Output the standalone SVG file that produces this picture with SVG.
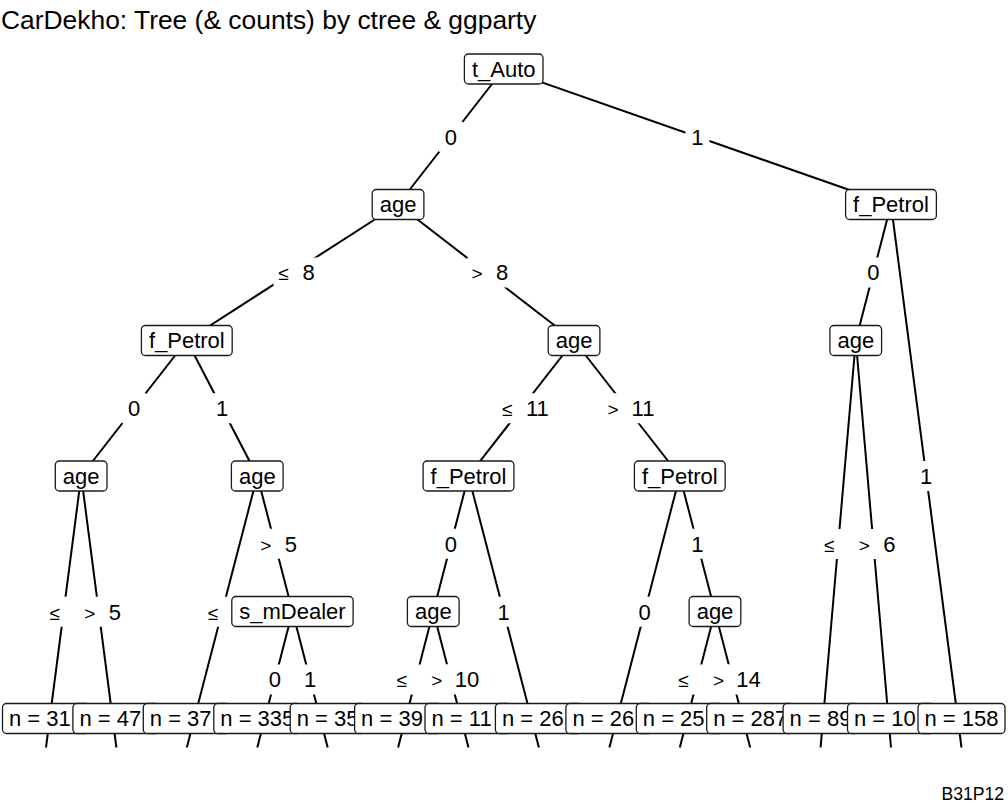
<svg xmlns="http://www.w3.org/2000/svg" width="1008" height="806" viewBox="0 0 1008 806">
<style>
text{font-family:"Liberation Sans",Arial,sans-serif;fill:#000}
.title{font-size:26.4px}
.cap{font-size:17.6px}
.edge{stroke:#000;stroke-width:2;fill:none}
.nb{fill:#fff;stroke:#1a1a1a;stroke-width:1.3}
.nt{font-size:22px;text-anchor:middle}
.tt{font-size:22px}
.lb{fill:#fff;stroke:none}
.el{font-size:22px;text-anchor:middle}
.op{font-size:19px}
</style>
<rect width="1008" height="806" fill="#fff"/>
<text class="title" x="1" y="29">CarDekho: Tree (&amp; counts) by ctree &amp; ggparty</text>

<g id="connectors">
<line class="edge" x1="503.7" y1="69" x2="398.1" y2="204.5"/>
<line class="edge" x1="503.7" y1="69" x2="891" y2="204.5"/>
<line class="edge" x1="398.1" y1="204.5" x2="186.8" y2="340.5"/>
<line class="edge" x1="398.1" y1="204.5" x2="574.1" y2="340.5"/>
<line class="edge" x1="186.8" y1="340.5" x2="81.2" y2="476"/>
<line class="edge" x1="186.8" y1="340.5" x2="257.3" y2="476"/>
<line class="edge" x1="81.2" y1="476" x2="46" y2="747.5"/>
<line class="edge" x1="81.2" y1="476" x2="116.4" y2="747.5"/>
<line class="edge" x1="257.3" y1="476" x2="186.8" y2="747.5"/>
<line class="edge" x1="257.3" y1="476" x2="292.5" y2="611.5"/>
<line class="edge" x1="292.5" y1="611.5" x2="257.3" y2="747.5"/>
<line class="edge" x1="292.5" y1="611.5" x2="327.7" y2="747.5"/>
<line class="edge" x1="574.1" y1="340.5" x2="468.5" y2="476"/>
<line class="edge" x1="574.1" y1="340.5" x2="679.8" y2="476"/>
<line class="edge" x1="468.5" y1="476" x2="433.3" y2="611.5"/>
<line class="edge" x1="468.5" y1="476" x2="538.9" y2="747.5"/>
<line class="edge" x1="433.3" y1="611.5" x2="398.1" y2="747.5"/>
<line class="edge" x1="433.3" y1="611.5" x2="468.5" y2="747.5"/>
<line class="edge" x1="679.8" y1="476" x2="609.4" y2="747.5"/>
<line class="edge" x1="679.8" y1="476" x2="715" y2="611.5"/>
<line class="edge" x1="715" y1="611.5" x2="679.8" y2="747.5"/>
<line class="edge" x1="715" y1="611.5" x2="750.2" y2="747.5"/>
<line class="edge" x1="891" y1="204.5" x2="855.8" y2="340.5"/>
<line class="edge" x1="891" y1="204.5" x2="961.5" y2="747.5"/>
<line class="edge" x1="855.8" y1="340.5" x2="820.6" y2="747.5"/>
<line class="edge" x1="855.8" y1="340.5" x2="891" y2="747.5"/>
</g>

<g id="edge-labels">
<rect class="lb" x="438.9" y="121.75" width="24" height="30"/><text class="el" x="450.9" y="144.5">0</text>
<rect class="lb" x="685.4" y="121.75" width="24" height="30"/><text class="el" x="697.4" y="144.5">1</text>
<rect class="lb" x="273.5" y="257.5" width="47" height="30"/><text class="el" y="280.2"><tspan class="op" x="283.5">≤</tspan><tspan x="308.5">8</tspan></text>
<rect class="lb" x="467.1" y="257.5" width="47" height="30"/><text class="el" y="280.2"><tspan class="op" x="477.1">&gt;</tspan><tspan x="502.1">8</tspan></text>
<rect class="lb" x="122" y="393.25" width="24" height="30"/><text class="el" x="134" y="416">0</text>
<rect class="lb" x="210" y="393.25" width="24" height="30"/><text class="el" x="222" y="416">1</text>
<rect class="lb" x="44.6" y="596.75" width="47" height="30"/><text class="el" y="619.5"><tspan class="op" x="54.6">≤</tspan></text>
<rect class="lb" x="79.8" y="596.75" width="47" height="30"/><text class="el" y="619.5"><tspan class="op" x="89.8">&gt;</tspan><tspan x="114.8">5</tspan></text>
<rect class="lb" x="203" y="596.75" width="47" height="30"/><text class="el" y="619.5"><tspan class="op" x="213">≤</tspan></text>
<rect class="lb" x="255.9" y="528.75" width="47" height="30"/><text class="el" y="551.5"><tspan class="op" x="265.9">&gt;</tspan><tspan x="290.9">5</tspan></text>
<rect class="lb" x="262.9" y="664.5" width="24" height="30"/><text class="el" x="274.9" y="687.2">0</text>
<rect class="lb" x="298.1" y="664.5" width="24" height="30"/><text class="el" x="310.1" y="687.2">1</text>
<rect class="lb" x="497.3" y="393.25" width="58" height="30"/><text class="el" y="416"><tspan class="op" x="507.3">≤</tspan><tspan x="537.3">11</tspan></text>
<rect class="lb" x="603" y="393.25" width="58" height="30"/><text class="el" y="416"><tspan class="op" x="613">&gt;</tspan><tspan x="643">11</tspan></text>
<rect class="lb" x="438.9" y="528.75" width="24" height="30"/><text class="el" x="450.9" y="551.5">0</text>
<rect class="lb" x="491.7" y="596.75" width="24" height="30"/><text class="el" x="503.7" y="619.5">1</text>
<rect class="lb" x="391.7" y="664.5" width="58" height="30"/><text class="el" y="687.2"><tspan class="op" x="401.7">≤</tspan></text>
<rect class="lb" x="426.9" y="664.5" width="58" height="30"/><text class="el" y="687.2"><tspan class="op" x="436.9">&gt;</tspan><tspan x="466.9">10</tspan></text>
<rect class="lb" x="632.6" y="596.75" width="24" height="30"/><text class="el" x="644.6" y="619.5">0</text>
<rect class="lb" x="685.4" y="528.75" width="24" height="30"/><text class="el" x="697.4" y="551.5">1</text>
<rect class="lb" x="673.4" y="664.5" width="58" height="30"/><text class="el" y="687.2"><tspan class="op" x="683.4">≤</tspan></text>
<rect class="lb" x="708.6" y="664.5" width="58" height="30"/><text class="el" y="687.2"><tspan class="op" x="718.6">&gt;</tspan><tspan x="748.6">14</tspan></text>
<rect class="lb" x="861.4" y="257.5" width="24" height="30"/><text class="el" x="873.4" y="280.2">0</text>
<rect class="lb" x="914.2" y="461" width="24" height="30"/><text class="el" x="926.2" y="483.7">1</text>
<rect class="lb" x="819.2" y="529" width="47" height="30"/><text class="el" y="551.7"><tspan class="op" x="829.2">≤</tspan></text>
<rect class="lb" x="854.4" y="529" width="47" height="30"/><text class="el" y="551.7"><tspan class="op" x="864.4">&gt;</tspan><tspan x="889.4">6</tspan></text>
</g>

<g id="n1"><rect class="nb" x="464.4" y="54" width="78.6" height="30" rx="4"/><text class="nt" x="503.7" y="76.7">t_Auto</text></g>
<g id="n2"><rect class="nb" x="372.2" y="189.5" width="51.7" height="30" rx="4"/><text class="nt" x="398.1" y="212.2">age</text></g>
<g id="n3"><rect class="nb" x="141.4" y="325.5" width="90.8" height="30" rx="4"/><text class="nt" x="186.8" y="348.2">f_Petrol</text></g>
<g id="n12"><rect class="nb" x="548.2" y="325.5" width="51.7" height="30" rx="4"/><text class="nt" x="574.1" y="348.2">age</text></g>
<g id="n23"><rect class="nb" x="845.6" y="189.5" width="90.8" height="30" rx="4"/><text class="nt" x="891" y="212.2">f_Petrol</text></g>
<g id="n24"><rect class="nb" x="829.9" y="325.5" width="51.7" height="30" rx="4"/><text class="nt" x="855.8" y="348.2">age</text></g>
<g id="n4"><rect class="nb" x="55.3" y="461" width="51.7" height="30" rx="4"/><text class="nt" x="81.2" y="483.7">age</text></g>
<g id="n7"><rect class="nb" x="231.4" y="461" width="51.7" height="30" rx="4"/><text class="nt" x="257.3" y="483.7">age</text></g>
<g id="n13"><rect class="nb" x="423.1" y="461" width="90.8" height="30" rx="4"/><text class="nt" x="468.5" y="483.7">f_Petrol</text></g>
<g id="n18"><rect class="nb" x="634.4" y="461" width="90.8" height="30" rx="4"/><text class="nt" x="679.8" y="483.7">f_Petrol</text></g>
<g id="n9"><rect class="nb" x="231.8" y="596.5" width="121.3" height="30" rx="4"/><text class="nt" x="292.5" y="619.2">s_mDealer</text></g>
<g id="n14"><rect class="nb" x="407.4" y="596.5" width="51.7" height="30" rx="4"/><text class="nt" x="433.3" y="619.2">age</text></g>
<g id="n20"><rect class="nb" x="689.1" y="596.5" width="51.7" height="30" rx="4"/><text class="nt" x="715" y="619.2">age</text></g>

<g id="t1"><rect class="nb" x="2.5" y="703.5" width="87" height="30" rx="4"/><text class="tt" x="9" y="726.2">n = 31</text></g>
<g id="t2"><rect class="nb" x="72.9" y="703.5" width="87" height="30" rx="4"/><text class="tt" x="79.4" y="726.2">n = 47</text></g>
<g id="t3"><rect class="nb" x="143.3" y="703.5" width="87" height="30" rx="4"/><text class="tt" x="149.8" y="726.2">n = 37</text></g>
<g id="t4"><rect class="nb" x="213.8" y="703.5" width="87" height="30" rx="4"/><text class="tt" x="220.3" y="726.2">n = 335</text></g>
<g id="t5"><rect class="nb" x="290.2" y="703.5" width="75" height="30" rx="4"/><text class="tt" x="296.7" y="726.2">n = 35</text></g>
<g id="t6"><rect class="nb" x="354.6" y="703.5" width="87" height="30" rx="4"/><text class="tt" x="361.1" y="726.2">n = 39</text></g>
<g id="t7"><rect class="nb" x="425" y="703.5" width="87" height="30" rx="4"/><text class="tt" x="431.5" y="726.2">n = 11</text></g>
<g id="t8"><rect class="nb" x="495.4" y="703.5" width="87" height="30" rx="4"/><text class="tt" x="501.9" y="726.2">n = 26</text></g>
<g id="t9"><rect class="nb" x="565.9" y="703.5" width="87" height="30" rx="4"/><text class="tt" x="572.4" y="726.2">n = 26</text></g>
<g id="t10"><rect class="nb" x="636.3" y="703.5" width="87" height="30" rx="4"/><text class="tt" x="642.8" y="726.2">n = 25</text></g>
<g id="t11"><rect class="nb" x="706.7" y="703.5" width="87" height="30" rx="4"/><text class="tt" x="713.2" y="726.2">n = 287</text></g>
<g id="t12"><rect class="nb" x="783.1" y="703.5" width="75" height="30" rx="4"/><text class="tt" x="789.6" y="726.2">n = 89</text></g>
<g id="t13"><rect class="nb" x="847.5" y="703.5" width="87" height="30" rx="4"/><text class="tt" x="854" y="726.2">n = 10</text></g>
<g id="t14"><rect class="nb" x="918" y="703.5" width="87" height="30" rx="4"/><text class="tt" x="924.5" y="726.2">n = 158</text></g>

<text class="cap" x="1004" y="800" text-anchor="end">B31P12</text>
</svg>
